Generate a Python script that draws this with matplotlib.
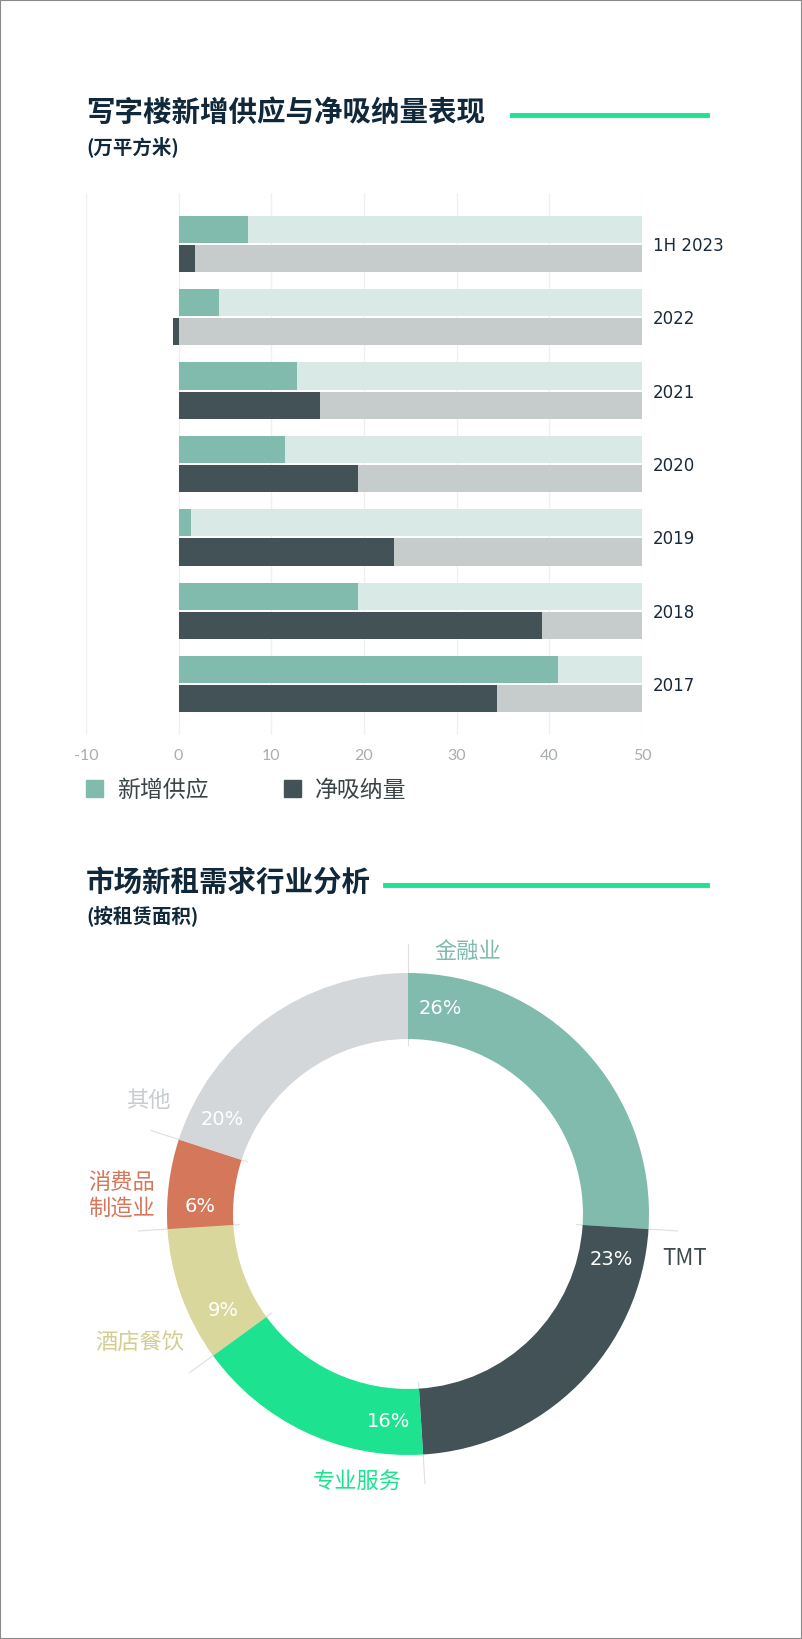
import numpy as np
import matplotlib
matplotlib.use("Agg")
import matplotlib.pyplot as plt
from matplotlib.patches import Patch, Rectangle
from matplotlib.lines import Line2D

plt.rcParams['font.family'] = ['Noto Sans CJK SC', 'DejaVu Sans']
plt.rcParams['axes.unicode_minus'] = False

# ---- data ----
years = ["2017", "2018", "2019", "2020", "2021", "2022", "1H 2023"]
new_supply = [40.9, 19.3, 1.3, 11.5, 12.8, 4.3, 7.5]
net_absorption = [34.4, 39.2, 23.2, 19.3, 15.2, -0.6, 1.8]
bar_max = 50

sectors = ["金融业", "TMT", "专业服务", "酒店餐饮", "消费品\n制造业", "其他"]
shares = [26, 23, 16, 9, 6, 20]

# ---- styles ----
navy = "#10283a"
green_line = "#1de28f"
c_supply, c_supply_bg = "#80bbad", "#d9e9e5"
c_absorb, c_absorb_bg = "#435257", "#c6cbcb"
slice_colors = ["#80bbad", "#435257", "#1de28f", "#dad79c", "#d4775a", "#d3d7da"]
label_colors = ["#80bbad", "#3d4a4e", "#1de28f", "#d2cf8e", "#d4775a", "#c8cdd0"]
# label anchor points in units of the outer radius
label_xy = [(0.247, 1.091), (1.147, -0.186), (-0.212, -1.108),
            (-1.113, -0.537), (-1.19, 0.078), (-1.078, 0.472)]

W, H = 802, 1639
fig = plt.figure(figsize=(W / 100, H / 100), dpi=100)


def fx(px):
    return px / W


def fy(py):
    return 1 - py / H


def heading(text, sub, y, line_x0):
    fig.text(fx(86), fy(y), text, fontsize=20.5, fontweight='bold', color=navy, va='center')
    fig.text(fx(86), fy(y + 34), sub, fontsize=14, fontweight='bold', color=navy, va='center')
    fig.add_artist(Line2D([fx(line_x0), fx(707)], [fy(y + 2)] * 2,
                          transform=fig.transFigure, color=green_line, lw=3.5))


heading("写字楼新增供应与净吸纳量表现", "(万平方米)", 113, 512)
heading("市场新租需求行业分析", "(按租赁面积)", 883, 385)

# ---- bar chart ----
ax = fig.add_axes([fx(86), fy(735), fx(642) - fx(86), (735 - 193) / H])
y = np.arange(len(years))
h = 0.37
ax.barh(y + 0.198, [bar_max] * len(years), height=h, color=c_supply_bg)
ax.barh(y + 0.198, new_supply, height=h, color=c_supply)
ax.barh(y - 0.198, [bar_max] * len(years), height=h, color=c_absorb_bg)
ax.barh(y - 0.198, net_absorption, height=h, color=c_absorb)

ax.set_xlim(-10, 50)
ax.set_ylim(-0.69, len(years) - 1 + 0.69)
ax.set_xticks(range(-10, 51, 10))
ax.grid(axis='x', color='#f0f0f0', lw=1)
ax.set_axisbelow(True)
for s in ax.spines.values():
    s.set_visible(False)
ax.yaxis.tick_right()
ax.set_yticks(y, years)
ax.tick_params(length=0)
ax.tick_params(axis='y', pad=8, labelsize=12, labelcolor='#18293a')
ax.tick_params(axis='x', pad=10, labelsize=11.5, labelcolor='#a9adaf')
for lab in ax.get_xticklabels():
    lab.set_fontfamily(['Lato', 'DejaVu Sans'])
for lab in ax.get_yticklabels():
    lab.set_fontfamily(['DejaVu Sans'])

fig.legend(handles=[Patch(color=c_supply, label="新增供应"),
                    Patch(color=c_absorb, label="净吸纳量")],
           loc='center left', bbox_to_anchor=(fx(86), fy(790)), ncol=2, frameon=False,
           fontsize=16.5, handlelength=0.74, handleheight=0.74, handletextpad=0.6,
           columnspacing=3.3, borderpad=0, borderaxespad=0, labelcolor='#3a4447')

# ---- donut ----
R = 241
ax2 = fig.add_axes([fx(408 - 300), fy(1214 + 300), 600 / W, 600 / H])
ax2.pie(shares, colors=slice_colors, startangle=90, counterclock=False, radius=1,
        wedgeprops=dict(width=0.274, linewidth=0))
ax2.set_xlim(-300 / R, 300 / R)
ax2.set_ylim(-300 / R, 300 / R)
ax2.set_aspect('equal')
ax2.axis('off')

bounds = np.concatenate([[0], np.cumsum(shares)]) / sum(shares) * 360
for b in bounds[:-1]:
    t = np.radians(b)
    ax2.plot([0.70 * np.sin(t), 1.12 * np.sin(t)], [0.70 * np.cos(t), 1.12 * np.cos(t)],
             color='#dcdfe0', lw=0.8, zorder=0)

for i, s in enumerate(shares):
    w = bounds[i + 1] - bounds[i]
    t = np.radians(bounds[i] + min(9, 0.26 * w))
    ax2.text(0.863 * np.sin(t), 0.863 * np.cos(t), f"{s}%", color='white',
             fontsize=14, family=['DejaVu Sans'], ha='center', va='center')
    lx, ly = label_xy[i]
    ax2.text(lx, ly, sectors[i], color=label_colors[i], fontsize=16,
             ha='center', va='center', linespacing=1.15)

fig.add_artist(Rectangle((0, 0), 1, 1, transform=fig.transFigure, fill=False,
                         edgecolor='#8a8a8a', lw=1.5))

fig.savefig("out.png", dpi=100)
